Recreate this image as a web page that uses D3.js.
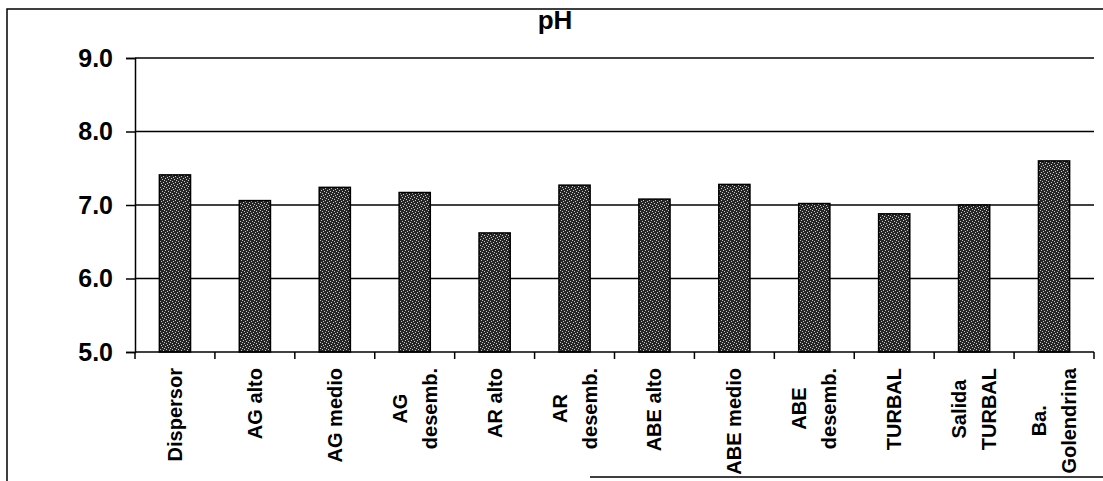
<!DOCTYPE html>
<html>
<head>
<meta charset="utf-8">
<script src="https://cdn.jsdelivr.net/npm/d3@7"></script>
<style>
  body { margin: 0; background: #fff; }
  svg { display: block; font-family: Arial, "Liberation Sans", sans-serif; }
</style>
</head>
<body>
<div id="chart"></div>
<script>
// data
var categories = [
    ["Dispersor"], ["AG alto"], ["AG medio"], ["AG", "desemb."], ["AR alto"],
    ["AR", "desemb."], ["ABE alto"], ["ABE medio"], ["ABE", "desemb."],
    ["TURBAL"], ["Salida", "TURBAL"], ["Ba.", "Golendrina"]
];
var phValues = [7.41, 7.06, 7.24, 7.17, 6.62, 7.27, 7.08, 7.28, 7.02, 6.88, 7.0, 7.6];
var yTicks = [5, 6, 7, 8, 9];
var chartTitle = "pH";

var W = 1103, H = 481;
var margin = { top: 58, right: 9, bottom: 129, left: 135 },
    width = W - margin.left - margin.right,
    height = H - margin.top - margin.bottom;

var root = d3.select("#chart").append("svg")
    .attr("width", W)
    .attr("height", H);

// outer frame of the pasted chart
var frame = d3.path();
frame.moveTo(7, 481); frame.lineTo(7, 9); frame.lineTo(1103, 9);
frame.moveTo(590, 477); frame.lineTo(1103, 477);
root.append("path")
    .attr("d", frame.toString())
    .attr("fill", "none")
    .attr("stroke", "#000")
    .attr("stroke-width", 1.5);

// stipple fill for the bars
var defs = root.append("defs");
var pat = defs.append("pattern")
    .attr("id", "stipple")
    .attr("patternUnits", "userSpaceOnUse")
    .attr("width", 6).attr("height", 6);
pat.append("rect").attr("width", 6).attr("height", 6).attr("fill", "#262626");
[[0, 0], [3, 1], [1, 3], [4, 4], [2, 5], [5, 2]].forEach(function (p) {
    pat.append("rect").attr("x", p[0]).attr("y", p[1])
        .attr("width", 1).attr("height", 1).attr("fill", "#c8c8c8");
});

var svg = root.append("g")
    .attr("transform", "translate(" + margin.left + "," + margin.top + ")");

var x = d3.scaleBand()
    .domain(d3.range(categories.length))
    .range([0, width])
    .paddingInner(0.61)
    .paddingOuter(0.305);

var y = d3.scaleLinear()
    .domain([5, 9])
    .range([height, 0]);

// gridlines
svg.append("g")
    .selectAll("line")
    .data(yTicks.slice(1))
    .join("line")
    .attr("x1", 0)
    .attr("x2", width)
    .attr("y1", function (d) { return y(d); })
    .attr("y2", function (d) { return y(d); })
    .attr("stroke", "#000")
    .attr("stroke-width", 1.5);

// bars
svg.append("g")
    .selectAll("rect")
    .data(phValues)
    .join("rect")
    .attr("x", function (d, i) { return x(i); })
    .attr("y", function (d) { return y(d); })
    .attr("width", x.bandwidth())
    .attr("height", function (d) { return height - y(d); })
    .attr("fill", "url(#stipple)")
    .attr("stroke", "#000")
    .attr("stroke-width", 1.5);

// y axis
var yAxis = svg.append("g")
    .call(d3.axisLeft(y).tickValues(yTicks).tickFormat(d3.format(".1f")).tickSize(9).tickPadding(13));
yAxis.select(".domain").attr("stroke-width", 1.5);
yAxis.selectAll(".tick line").attr("stroke-width", 1.5);
yAxis.selectAll("text")
    .attr("font-size", 25)
    .attr("font-weight", "bold")
    .attr("fill", "#000");

// x axis: ticks at category boundaries
var step = x.step();
var bounds = d3.range(categories.length + 1).map(function (i) { return i * step; });
var xAxis = svg.append("g").attr("transform", "translate(0," + height + ")");
xAxis.append("line")
    .attr("x1", 0).attr("x2", width)
    .attr("stroke", "#000").attr("stroke-width", 1.5);
xAxis.selectAll("line.tk")
    .data(bounds)
    .join("line")
    .attr("class", "tk")
    .attr("x1", function (d) { return d; })
    .attr("x2", function (d) { return d; })
    .attr("y1", 0).attr("y2", 7)
    .attr("stroke", "#000").attr("stroke-width", 1.5);

// rotated labels: block starts 16px below the axis, lines centred in the block
var lineGap = 30, labelStart = 16;
var labels = xAxis.selectAll("g.lbl")
    .data(categories)
    .join("g")
    .attr("class", "lbl")
    .attr("transform", function (d, i) {
        return "translate(" + (x(i) + x.bandwidth() / 2) + ",0) rotate(-90)";
    });
labels.each(function (d) {
    var g = d3.select(this);
    var texts = g.selectAll("text")
        .data(d)
        .join("text")
        .attr("y", function (t, k) { return (k - (d.length - 1) / 2) * lineGap; })
        .attr("dy", "0.35em")
        .attr("text-anchor", "middle")
        .attr("font-size", 20)
        .attr("font-weight", "bold")
        .text(function (t) { return t; });
    var maxLen = d3.max(texts.nodes(), function (n) { return n.getComputedTextLength(); });
    texts.attr("x", -(labelStart + maxLen / 2));
});

// title
root.append("text")
    .attr("x", 555)
    .attr("y", 29)
    .attr("text-anchor", "middle")
    .attr("font-size", 26)
    .attr("font-weight", "bold")
    .text(chartTitle);
</script>
</body>
</html>
